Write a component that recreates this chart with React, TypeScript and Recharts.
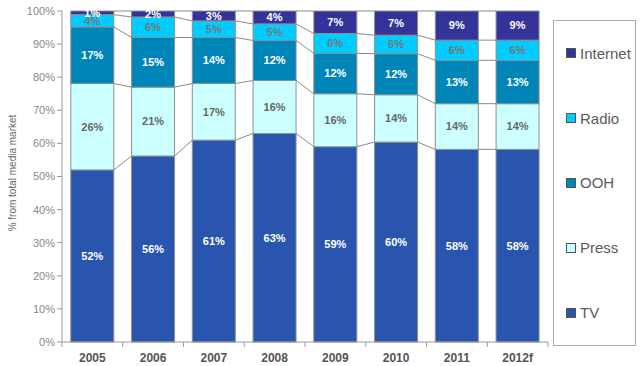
import { BarChart, Bar, XAxis, YAxis, LabelList, Legend } from 'recharts'

const years = ['2005','2006','2007','2008','2009','2010','2011','2012f']
const tv = [52.0, 56.2, 61.0, 63.0, 59.0, 60.4, 58.2, 58.2]
const press = [26.1, 20.8, 17.1, 16.0, 16.0, 14.3, 13.8, 13.8]
const ooh = [17.1, 15.0, 13.9, 12.1, 12.2, 12.4, 13.1, 13.1]
const radio = [3.7, 6.2, 5.0, 5.0, 6.0, 5.6, 6.1, 6.1]
const internet = [1.1, 1.8, 3.0, 3.9, 6.8, 7.3, 8.8, 8.8]
const yTicks = [0,10,20,30,40,50,60,70,80,90,100]

const SERIES = [
  { key:'tv', name:'TV', color:'#2a55ae', label:'#fff' },
  { key:'press', name:'Press', color:'#ccffff', label:'#666' },
  { key:'ooh', name:'OOH', color:'#0085b8', label:'#fff' },
  { key:'radio', name:'Radio', color:'#00ccff', label:'#777' },
  { key:'internet', name:'Internet', color:'#333399', label:'#fff' },
]

const data = years.map((y,i) => ({
  year:y, tv:tv[i], press:press[i], ooh:ooh[i], radio:radio[i], internet:internet[i],
}))

const W = 640, H = 366
const M = { top:11, right:92, bottom:0, left:0 }
const Y_W = 62, X_H = 24
const PLOT_W = W - M.left - M.right - Y_W
const PLOT_H = H - M.top - M.bottom - X_H
const BAND = PLOT_W / years.length
const PPU = PLOT_H / 100
const FONT = '"Liberation Sans", Arial, sans-serif'

// cumulative top of series k in row i
const topOf = (i:number, k:number) => SERIES.slice(0,k+1).reduce((s,d)=>s+(data[i] as any)[d.key],0)

// bar segment plus the excel-like series line to the next bar
function Segment(p:any) {
  const { x, y, width, height, fill, index, k } = p
  const next = index < data.length-1
  const ny = next ? y + (topOf(index,k) - topOf(index+1,k)) * PPU : 0
  return (
    <g>
      <rect x={x} y={y} width={width} height={height} fill={fill} stroke="#8f8f8f" strokeWidth={1}/>
      {next && <line x1={x+width} y1={y} x2={x+BAND} y2={ny} stroke="#8a8a8a" strokeWidth={1}/>}
    </g>
  )
}

function XTick(p:any) {
  const { x, y, payload, index } = p
  const ay = y - 11
  return (
    <g>
      <line x1={x-BAND/2} y1={ay} x2={x-BAND/2} y2={ay+5} stroke="#999"/>
      {index===years.length-1 && <line x1={x+BAND/2} y1={ay} x2={x+BAND/2} y2={ay+5} stroke="#999"/>}
      <text x={x} y={y} dy="0.71em" textAnchor="middle" fill="#555" fontSize={12} fontWeight="bold">{payload.value}</text>
    </g>
  )
}

// legend top-down: Internet ... TV
function LegendBox() {
  const items = [...SERIES].reverse()
  return (
    <div style={{ boxSizing:'border-box', width:'100%', height:'100%', border:'1px solid #aaa', display:'flex', flexDirection:'column', justifyContent:'space-around', paddingLeft:12, fontFamily:FONT }}>
      {items.map(it => (
        <div key={it.key} style={{ display:'flex', alignItems:'center', gap:4, fontSize:15, color:'#5a5a5a' }}>
          <span style={{ width:8, height:8, background:it.color, border:'0.5px solid #555', display:'inline-block' }}/>
          <span>{it.name}</span>
        </div>
      ))}
    </div>
  )
}

export default function App() {
  return (
    <div style={{ position:'absolute', left:0, top:0, width:W, height:H, background:'#fff', fontFamily:FONT }}>
      <BarChart width={W} height={H} data={data} margin={M} barCategoryGap="14.5%">
        <XAxis dataKey="year" height={X_H} tickLine={false} tickSize={5} tickMargin={6}
          axisLine={{ stroke:'#999' }} tick={<XTick/>} interval={0}/>
        <YAxis width={Y_W} domain={[0,100]} ticks={yTicks} tickFormatter={(v:number)=>`${v}%`}
          tick={{ fill:'#888', fontSize:11 }} tickSize={5} axisLine={{ stroke:'#999' }} tickLine={{ stroke:'#999' }}
          label={{ content: () => (
            <text x={12} y={173} transform="rotate(-90 12 173)" textAnchor="middle" dominantBaseline="central"
              fill="#666" fontSize={10}>% from total media market</text>
          ) }}/>
        <YAxis yAxisId="r" orientation="right" width={0} tick={false} tickLine={false} axisLine={{ stroke:'#aaa' }}/>
        <Legend layout="vertical" align="center" verticalAlign="middle" content={<LegendBox/>}
          wrapperStyle={{ left:553, top:20, width:83, height:326 }}/>
        {SERIES.map((s,k) => (
          <Bar key={s.key} dataKey={s.key} name={s.name} stackId="a" fill={s.color} isAnimationActive={false}
            shape={(p:any) => <Segment {...p} k={k}/>}>
            <LabelList dataKey={s.key} position="center" fill={s.label} stroke="none" fontSize={11} fontWeight="bold"
              formatter={(v:any)=>`${Math.round(Number(v))}%`}/>
          </Bar>
        ))}
      </BarChart>
    </div>
  )
}
